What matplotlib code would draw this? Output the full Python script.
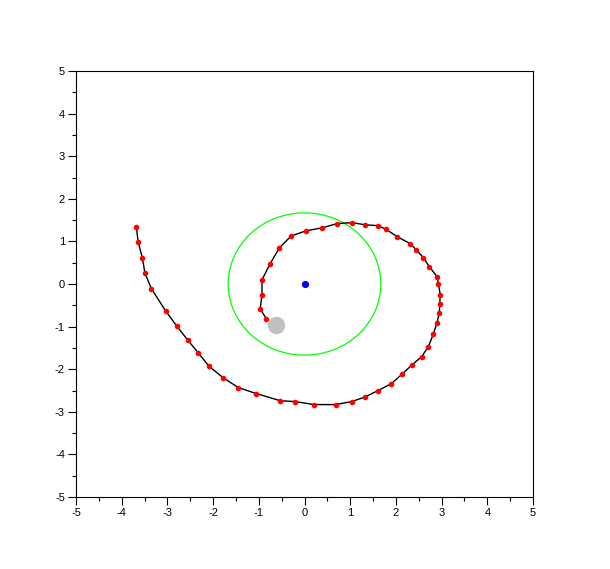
import matplotlib
matplotlib.use("Agg")
import matplotlib.pyplot as plt
from matplotlib.patches import Circle
from matplotlib.ticker import MultipleLocator
import numpy as np

plt.rcParams["axes.unicode_minus"] = False

# path points, start (top left) to end (near the grey dot)
path_x = [-3.68, -3.64, -3.55, -3.49, -3.35, -3.04, -2.80, -2.56, -2.33, -2.09,
          -1.78, -1.45, -1.06, -0.53, -0.20, 0.21, 0.68, 1.03, 1.33, 1.61,
          1.90, 2.14, 2.36, 2.56, 2.71, 2.82, 2.90, 2.95, 2.96, 2.97,
          2.93, 2.90, 2.73, 2.60, 2.44, 2.31, 2.03, 1.79, 1.61, 1.33,
          1.04, 0.72, 0.39, 0.04, -0.29, -0.55, -0.75, -0.93, -0.93, -0.97,
          -0.84]
path_y = [1.345, 0.99, 0.62, 0.25, -0.11, -0.63, -0.98, -1.31, -1.61, -1.93,
          -2.20, -2.43, -2.57, -2.74, -2.76, -2.83, -2.83, -2.76, -2.65, -2.50,
          -2.34, -2.11, -1.89, -1.71, -1.47, -1.17, -0.91, -0.67, -0.46, -0.25,
          0.01, 0.17, 0.41, 0.62, 0.81, 0.95, 1.11, 1.28, 1.37, 1.39,
          1.44, 1.42, 1.32, 1.25, 1.13, 0.85, 0.48, 0.10, -0.25, -0.58,
          -0.81]

centre = (0.0, 0.0)
ring_radius = 1.67
grey_dot = (-0.63, -0.97)

fig = plt.figure(figsize=(6.10, 5.69), dpi=100)
ax = fig.add_axes([0.1246, 0.1265, 0.7492, 0.7487])

ax.add_patch(Circle(centre, ring_radius, fill=False, edgecolor="#00ff00", linewidth=0.9))
ax.plot(path_x, path_y, color="black", linewidth=1.0, zorder=3)
ax.plot(path_x, path_y, linestyle="none", marker="o", markersize=4.0,
        color="red", markeredgewidth=0, zorder=4)
ax.plot([centre[0]], [centre[1]], marker="o", markersize=5.2, color="blue",
        markeredgewidth=0, zorder=5)
ax.plot([grey_dot[0]], [grey_dot[1]], marker="o", markersize=12.5, color="#c0c0c0",
        markeredgewidth=0, zorder=5)

ax.set_xlim(-5, 5)
ax.set_ylim(-5, 5)
ax.xaxis.set_major_locator(MultipleLocator(1))
ax.yaxis.set_major_locator(MultipleLocator(1))
ax.xaxis.set_minor_locator(MultipleLocator(0.5))
ax.yaxis.set_minor_locator(MultipleLocator(0.5))
ax.tick_params(which="major", direction="out", length=6, width=0.8, labelsize=8,
               pad=2)
ax.tick_params(which="minor", direction="out", length=3, width=0.8)
for lab in ax.get_xticklabels() + ax.get_yticklabels():
    lab.set_family(["Liberation Sans", "DejaVu Sans"])
for s in ax.spines.values():
    s.set_linewidth(0.8)

fig.savefig("out.png", dpi=100)
